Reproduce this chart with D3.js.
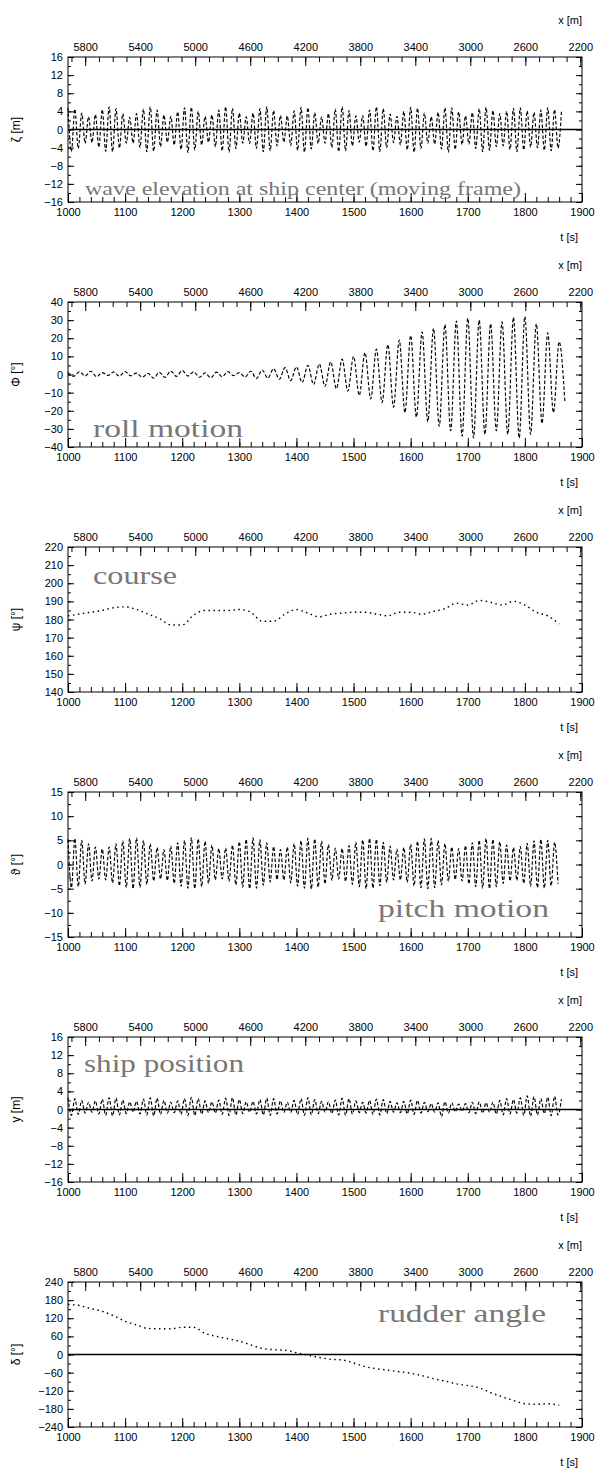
<!DOCTYPE html>
<html><head><meta charset="utf-8">
<script src="https://cdn.jsdelivr.net/npm/d3@7"></script>
<style>
body{margin:0;background:#fff}
svg text{font-family:"Liberation Sans",Arial,sans-serif}
</style>
</head><body>
<svg id="c" width="611" height="1470"></svg>
<script>
// ---------- shared axes ----------
const tDomain = [1000, 1900];
const tTicks = [1000, 1100, 1200, 1300, 1400, 1500, 1600, 1700, 1800, 1900];
const xDomain = [5925, 2188];
const xTicks = [5800, 5400, 5000, 4600, 4200, 3800, 3400, 3000, 2600, 2200];

// ---------- series ----------
// wave elevation, extrema every 6 s from t=1000
const waveStart = 1000, waveStep = 6;
const waveValues = [
 4.8,-4.9,4.5,-4.2,3.6,-3.1,2.8,-2.9,3.3,-3.9,4.4,-4.8,5.0,-4.9,4.6,
 -4.1,3.5,-3.0,2.7,-3.0,3.5,-4.0,4.5,-4.9,5.0,-4.8,4.3,-3.8,3.2,-2.8,
 2.9,-3.4,3.9,-4.4,4.8,-5.1,4.9,-4.5,4.0,-3.4,2.9,-2.8,3.2,-3.8,4.3,
 -4.7,5.0,-5.0,4.7,-4.2,3.6,-3.0,2.8,-3.1,3.6,-4.2,4.6,-4.9,5.0,-4.7,
 4.2,-3.6,3.1,-2.8,3.0,-3.5,4.1,-4.6,4.9,-5.0,4.8,-4.3,3.7,-3.1,2.8,
 -3.0,3.5,-4.0,4.5,-4.9,5.0,-4.7,4.2,-3.6,3.0,-2.8,3.1,-3.7,4.3,-4.7,
 5.0,-4.9,4.6,-4.0,3.4,-2.9,2.9,-3.4,4.0,-4.5,4.9,-5.0,4.7,-4.2,3.6,
 -3.0,2.8,-3.2,3.8,-4.3,4.8,-5.0,4.8,-4.4,3.9,-3.3,3.0,-3.2,3.7,-4.2,
 4.6,-4.9,4.9,-4.6,4.2,-3.8,3.5,-3.6,4.0,-4.4,4.7,-4.9,4.8,-4.5,4.1,
 -3.9,3.8,-4.0,4.3,-4.6,4.8,-4.7,4.4,-4.1,3.9
];
// roll, extrema every 10 s from t=1000
const rollStart = 1000, rollStep = 10;
const rollValues = [
 1.2,-1.0,1.5,-0.8,1.8,-1.2,1.0,-0.5,1.4,-0.9,
 1.6,-0.7,0.8,-1.5,0.6,-2.0,1.2,-1.6,1.9,-1.0,
 2.2,-0.8,1.5,-1.5,0.9,-1.8,1.3,-1.2,1.6,-0.6,
 1.0,-1.4,1.8,-2.2,2.5,-2.0,3.2,-2.6,3.8,-3.4,
 4.2,-4.5,5.0,-5.5,5.8,-6.5,7.0,-7.8,8.5,-9.2,
 10.0,-11.5,12.0,-13.5,14.0,-15.5,16.5,-18.0,19.0,-21.0,
 21.5,-23.5,23.5,-26.0,25.5,-28.5,27.5,-31.0,29.5,-34.0,
 31.0,-35.0,30.0,-33.0,28.0,-31.0,29.0,-33.0,31.5,-35.0,
 32.0,-33.0,28.0,-27.0,23.0,-21.0,18.0,-15.0
];
// course, every 20 s from t=1000
const courseStart = 1000, courseStep = 20;
const courseValues = [
 182,183,184,185,186.5,187,185.5,183,180.5,177,
 177,182.5,185,185,185,185.5,184,179,179,183,
 185.5,183.5,181.5,183,183.5,184,184,183,182,184,
 184,183,184.5,186,189,188,190.5,189.5,188,190,
 188,184,182,177.5
];
// pitch, extrema every 6 s from t=1000
const pitchStart = 1000, pitchStep = 6;
const pitchValues = [
 5.2,-4.8,5.4,-4.6,5.0,-4.0,4.3,-3.4,3.6,-3.0,3.2,-3.2,3.6,-3.8,4.3,-4.4,4.9,
 -4.8,5.4,-5.0,5.5,-4.7,5.0,-4.1,4.3,-3.4,3.5,-3.0,3.1,-3.3,3.8,-3.9,4.5,-4.5,
 5.0,-4.9,5.5,-5.0,5.3,-4.6,4.8,-3.9,4.0,-3.2,3.3,-3.0,3.4,-3.5,4.0,-4.2,4.7,
 -4.7,5.2,-5.0,5.5,-4.9,5.1,-4.3,4.5,-3.6,3.7,-3.1,3.1,-3.2,3.6,-3.8,4.3,-4.5,
 4.9,-4.9,5.4,-5.1,5.3,-4.7,4.8,-4.0,4.1,-3.3,3.4,-3.0,3.3,-3.5,3.9,-4.1,4.6,
 -4.6,5.1,-5.0,5.4,-4.9,5.2,-4.4,4.6,-3.7,3.8,-3.2,3.2,-3.2,3.5,-3.7,4.2,-4.4,
 4.8,-4.8,5.3,-5.0,5.4,-4.8,5.0,-4.2,4.3,-3.5,3.6,-3.1,3.3,-3.4,3.9,-4.0,4.5,
 -4.6,5.0,-4.9,5.4,-5.0,5.2,-4.6,4.7,-3.9,4.0,-3.4,3.5,-3.3,3.7,-3.9,4.4,-4.5,
 4.9,-4.8,5.2,-4.9,5.0,-4.4,4.6,-4.0
];
// ship position, extrema every 6 s from t=1000
const posStart = 1000, posStep = 6;
const posValues = [
 2.6,-1.3,2.4,-1.1,2.0,-0.8,1.6,-0.6,1.9,-1.0,2.3,-1.3,2.6,-1.4,2.5,
 -1.2,2.1,-0.9,1.7,-0.6,1.8,-1.0,2.3,-1.2,2.6,-1.4,2.5,-1.1,2.0,-0.8,
 1.6,-0.7,1.9,-1.1,2.4,-1.3,2.7,-1.3,2.4,-1.0,1.9,-0.7,1.7,-0.8,2.1,
 -1.1,2.5,-1.3,2.6,-1.2,2.2,-0.9,1.7,-0.6,1.8,-1.0,2.2,-1.2,2.5,-1.3,
 2.4,-1.0,1.9,-0.7,1.6,-0.7,2.0,-1.1,2.4,-1.3,2.6,-1.2,2.2,-0.9,1.8,
 -0.6,1.7,-0.9,2.1,-1.2,2.5,-1.3,2.4,-1.0,1.9,-0.7,1.6,-0.8,2.0,-1.1,
 2.3,-1.2,2.2,-0.9,1.8,-0.6,1.5,-0.7,1.8,-1.0,2.1,-1.1,2.0,-0.8,1.6,
 -0.5,1.3,-0.6,1.5,-1.6,1.7,-0.8,1.5,-0.5,1.2,-0.4,1.3,-0.7,1.6,-0.9,
 1.7,-0.8,1.5,-0.6,1.6,-1.0,2.0,-1.2,2.4,-1.0,2.2,-0.8,2.6,-1.3,3.0,
 -1.5,2.8,-1.2,2.4,-0.9,2.7,-1.4,2.9,-1.2,2.3
];
// rudder angle, every 20 s from t=1000
const rudderStart = 1000, rudderStep = 20;
const rudderValues = [
 166,162,152,143,128,110,98,86,85,85,
 90,90,70,60,52,44,32,20,16,14,
 6,-2,-10,-16,-18,-28,-40,-47,-52,-57,
 -62,-70,-80,-88,-97,-103,-110,-126,-140,-152,
 -163,-165,-163,-168
];

// y tick values per panel
const waveTicks = [-16,-12,-8,-4,0,4,8,12,16];
const rollTicks = [-40,-30,-20,-10,0,10,20,30,40];
const courseTicks = [140,150,160,170,180,190,200,210,220];
const pitchTicks = [-15,-10,-5,0,5,10,15];
const posTicks = [-16,-12,-8,-4,0,4,8,12,16];
const rudderTicks = [-240,-180,-120,-60,0,60,120,180,240];

const toPts = (start, step, vals) => vals.map((v, i) => ({t: start + i * step, v}));

const panels = [
 {ylab:"ζ [m]", dom:[-16,16], ticks:waveTicks, data:toPts(waveStart,waveStep,waveValues), kind:"osc", zero:true,
  label:"wave elevation at ship center (moving frame)", lx:85, ly:138, lw:436, fs:19},
 {ylab:"Φ [°]", dom:[-40,40], ticks:rollTicks, data:toPts(rollStart,rollStep,rollValues), kind:"osc", zero:false,
  label:"roll motion", lx:93, ly:135, lw:150, fs:25},
 {ylab:"ψ [°]", dom:[140,220], ticks:courseTicks, data:toPts(courseStart,courseStep,courseValues), kind:"dot", zero:false,
  label:"course", lx:93, ly:37, lw:84, fs:25},
 {ylab:"ϑ [°]", dom:[-15,15], ticks:pitchTicks, data:toPts(pitchStart,pitchStep,pitchValues), kind:"osc", zero:false,
  label:"pitch motion", lx:378, ly:125, lw:171, fs:25},
 {ylab:"y [m]", dom:[-16,16], ticks:posTicks, data:toPts(posStart,posStep,posValues), kind:"osc", zero:true,
  label:"ship position", lx:84, ly:35, lw:160, fs:25},
 {ylab:"δ [°]", dom:[-240,240], ticks:rudderTicks, data:toPts(rudderStart,rudderStep,rudderValues), kind:"dot", zero:true,
  label:"rudder angle", lx:378, ly:40, lw:168, fs:25}
];

// ---------- drawing ----------
const left = 68, right = 582, ph = 145, gap = 245, top0 = 57;
const svg = d3.select("#c");
const tS = d3.scaleLinear().domain(tDomain).range([left, right]);
const xS = d3.scaleLinear().domain(xDomain).range([left, right]);

function styleAxis(sel){
  sel.select(".domain").remove();
  sel.selectAll("line").attr("stroke","#000").attr("stroke-width",1);
  sel.selectAll("text").attr("fill","#000").style("font-size","11px");
}

panels.forEach((p, i) => {
  const top = top0 + gap * i, bottom = top + ph;
  const g = svg.append("g");
  const y = d3.scaleLinear().domain(p.dom).range([bottom, top]);
  const step = p.ticks[1] - p.ticks[0];
  const minorY = d3.range(p.dom[0], p.dom[1] + 1e-9, step / 2);

  // bottom axis (t)
  g.append("g").attr("transform", `translate(0,${bottom})`)
    .call(d3.axisBottom(tS).tickValues(d3.range(1000, 1901, 20)).tickSize(-5).tickFormat(""))
    .call(styleAxis);
  g.append("g").attr("transform", `translate(0,${bottom})`)
    .call(d3.axisBottom(tS).tickValues(tTicks).tickSize(-9).tickPadding(6).tickFormat(d3.format("d")))
    .call(styleAxis);
  // top axis (x)
  g.append("g").attr("transform", `translate(0,${top})`)
    .call(d3.axisTop(xS).tickValues(d3.range(5900, 2187, -100)).tickSize(-5).tickFormat(""))
    .call(styleAxis);
  g.append("g").attr("transform", `translate(0,${top})`)
    .call(d3.axisTop(xS).tickValues(xTicks).tickSize(-9).tickPadding(6).tickFormat(d3.format("d")))
    .call(styleAxis);
  // left / right axes
  g.append("g").attr("transform", `translate(${left},0)`)
    .call(d3.axisLeft(y).tickValues(minorY).tickSize(-3).tickFormat(""))
    .call(styleAxis);
  g.append("g").attr("transform", `translate(${left},0)`)
    .call(d3.axisLeft(y).tickValues(p.ticks).tickSize(-6).tickPadding(5).tickFormat(d3.format("d")))
    .call(styleAxis);
  g.append("g").attr("transform", `translate(${right},0)`)
    .call(d3.axisRight(y).tickValues(minorY).tickSize(-3).tickFormat(""))
    .call(styleAxis);
  g.append("g").attr("transform", `translate(${right},0)`)
    .call(d3.axisRight(y).tickValues(p.ticks).tickSize(-6).tickFormat(""))
    .call(styleAxis);

  // frame
  g.append("rect").attr("x", left).attr("y", top).attr("width", right - left).attr("height", ph)
    .attr("fill", "none").attr("stroke", "#000").attr("stroke-width", 1);

  // zero line
  if (p.zero) {
    g.append("line").attr("x1", left).attr("x2", right).attr("y1", y(0)).attr("y2", y(0))
      .attr("stroke", "#000").attr("stroke-width", 1.6);
  }

  // data
  const line = d3.line().x(d => tS(d.t)).y(d => y(d.v)).curve(d3.curveMonotoneX);
  const path = g.append("path").datum(p.data).attr("d", line).attr("fill", "none").attr("stroke", "#000");
  if (p.kind === "osc") path.attr("stroke-width", 1.15).attr("stroke-dasharray", "3.5 2");
  else path.attr("stroke-width", 1.4).attr("stroke-dasharray", "1.5 3.5");

  // panel caption
  g.append("text").attr("x", p.lx).attr("y", top + p.ly).text(p.label)
    .attr("fill", "#777").style("font-family", '"Liberation Serif","DejaVu Serif",serif')
    .style("font-size", p.fs + "px").attr("textLength", p.lw).attr("lengthAdjust", "spacingAndGlyphs");

  // axis titles
  g.append("text").attr("x", right).attr("y", top - 33).attr("text-anchor", "end")
    .style("font-size", "11px").text("x [m]");
  g.append("text").attr("x", right - 4).attr("y", bottom + 39).attr("text-anchor", "end")
    .style("font-size", "11px").text("t [s]");
  g.append("text").attr("transform", `translate(20,${(top + bottom) / 2}) rotate(-90)`)
    .attr("text-anchor", "middle").style("font-size", "12px").text(p.ylab);
});
</script>
</body></html>
